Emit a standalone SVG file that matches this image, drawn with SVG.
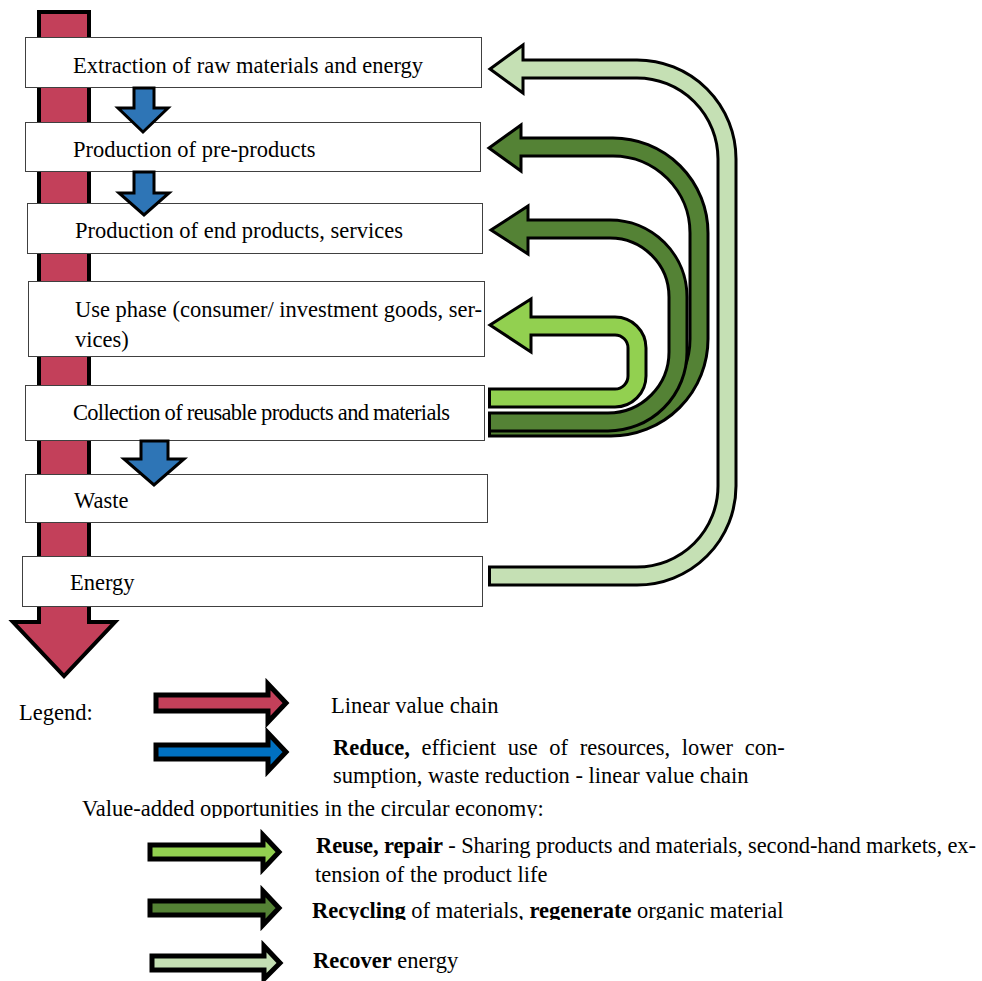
<svg xmlns="http://www.w3.org/2000/svg" width="982" height="981" viewBox="0 0 982 981">
<style>
text{font-family:"Liberation Serif","Times New Roman",serif;font-size:22.5px;fill:#000}
.b{font-weight:bold}
.box{fill:#fff;stroke:#404040;stroke-width:1}
.red{fill:#C3405A;stroke:#000;stroke-width:4;stroke-linejoin:miter}
.blue{fill:#2E75B6;stroke:#000;stroke-width:3}
.lg{stroke-width:5;stroke:#000;stroke-linejoin:miter}
.edge{fill:none;stroke:#000;stroke-linecap:butt}
</style>
<defs>
<clipPath id="c1"><rect x="0" y="790" width="982" height="28"/></clipPath>
<clipPath id="c2"><rect x="0" y="862" width="982" height="22"/></clipPath>
<clipPath id="c3"><rect x="0" y="890" width="982" height="30"/></clipPath>
</defs>

<g id="linear-chain">
<polygon class="red" points="39,12 89,12 89,622 115,622 64,676 13,622 39,622"/>
</g>

<g id="box-extraction"><rect class="box" x="25.5" y="37.5" width="456" height="50"/><text x="73" y="73">Extraction of raw materials and energy</text></g>
<g id="box-preproducts"><rect class="box" x="25.5" y="122.5" width="455" height="49"/><text x="73" y="157">Production of pre-products</text></g>
<g id="box-endproducts"><rect class="box" x="27.5" y="203.5" width="455" height="50"/><text x="75" y="238">Production of end products, services</text></g>
<g id="box-use"><rect class="box" x="28.5" y="281.5" width="456" height="75"/><text x="75" y="317">Use phase (consumer/ investment goods, ser-</text><text x="75" y="347">vices)</text></g>
<g id="box-collection"><rect class="box" x="25.5" y="385.5" width="459" height="55"/><text x="73" y="420" textLength="377" lengthAdjust="spacing">Collection of reusable products and materials</text></g>
<g id="box-waste"><rect class="box" x="25.5" y="474.5" width="462" height="48"/><text x="74" y="508">Waste</text></g>
<g id="box-energy"><rect class="box" x="22.5" y="556.5" width="460" height="50"/><text x="70" y="590">Energy</text></g>

<g id="connectors">
<polygon class="blue" points="134,88 154,88 154,108 168,108 143,132 118,108 134,108"/>
<polygon class="blue" points="134,172 154,172 154,193 169,193 144,215 119,193 134,193"/>
<polygon class="blue" points="141,441 168,441 168,459 184,459 154,485 124,459 141,459"/>

<!-- recover energy -->
<path class="edge" stroke-width="21" d="M488,576 H637 A90,90 0 0 0 727,486 V159 A90,90 0 0 0 637,69 H520"/>
<polygon fill="#C5E0B4" stroke="#000" stroke-width="3" points="523,45 490,69 523,93"/>
<path fill="none" stroke="#C5E0B4" stroke-width="15" d="M491,576 H637 A90,90 0 0 0 727,486 V159 A90,90 0 0 0 637,69 H519"/>

<!-- recycling to pre-products -->
<path class="edge" stroke-width="21" d="M488,427 H611 A88,88 0 0 0 699,339 V233 A86,86 0 0 0 613,147 H518"/>
<polygon fill="#548235" stroke="#000" stroke-width="3" points="521,125 489,148 521,171"/>
<path fill="none" stroke="#548235" stroke-width="15" d="M491,427 H611 A88,88 0 0 0 699,339 V233 A86,86 0 0 0 613,147 H517"/>

<!-- recycling to end products -->
<path class="edge" stroke-width="21" d="M488,422 H608 A70,70 0 0 0 678,352 V297 A68,68 0 0 0 610,229 H525"/>
<polygon fill="#548235" stroke="#000" stroke-width="3" points="528,206 491,230 528,254"/>
<path fill="none" stroke="#548235" stroke-width="15" d="M491,422 H608 A70,70 0 0 0 678,352 V297 A68,68 0 0 0 610,229 H524"/>

<!-- reuse -->
<path class="edge" stroke-width="21" d="M488,398 H615 A22,22 0 0 0 637,376 V348 A22,22 0 0 0 615,326 H528"/>
<polygon fill="#92D050" stroke="#000" stroke-width="3" points="531,299 490,325 531,352"/>
<path fill="none" stroke="#92D050" stroke-width="15" d="M491,398 H615 A22,22 0 0 0 637,376 V348 A22,22 0 0 0 615,326 H527"/>
</g>

<g id="legend">
<text x="19" y="720">Legend:</text>
<polygon class="lg" fill="#C3405A" points="156,695 268,695 268,684 286,703 268,722 268,711 156,711"/>
<text x="331" y="713">Linear value chain</text>
<polygon class="lg" fill="#0070C0" points="156,745 268,745 268,733 286,752 268,771 268,759 156,759"/>
<text x="333" y="755" word-spacing="6"><tspan class="b">Reduce,</tspan> efficient use of resources, lower con-</text>
<text x="333" y="783">sumption, waste reduction - linear value chain</text>
<text x="82" y="816" clip-path="url(#c1)">Value-added opportunities in the circular economy:</text>
<polygon class="lg" fill="#92D050" points="150,845 263,845 263,835 279,852 263,869 263,859 150,859"/>
<text x="316" y="853" textLength="660" lengthAdjust="spacing"><tspan class="b">Reuse, repair</tspan> - Sharing products and materials, second-hand markets, ex-</text>
<text x="315" y="882" clip-path="url(#c2)">tension of the product life</text>
<polygon class="lg" fill="#548235" points="150,901 263,901 263,891 279,908 263,925 263,915 150,915"/>
<text x="312" y="918" clip-path="url(#c3)"><tspan class="b">Recycling</tspan> of materials, <tspan class="b">regenerate</tspan> organic material</text>
<polygon class="lg" fill="#C5E0B4" points="152,956 264,956 264,946 280,963 264,979 264,970 152,970"/>
<text x="313" y="968"><tspan class="b">Recover</tspan> energy</text>
</g>
</svg>
